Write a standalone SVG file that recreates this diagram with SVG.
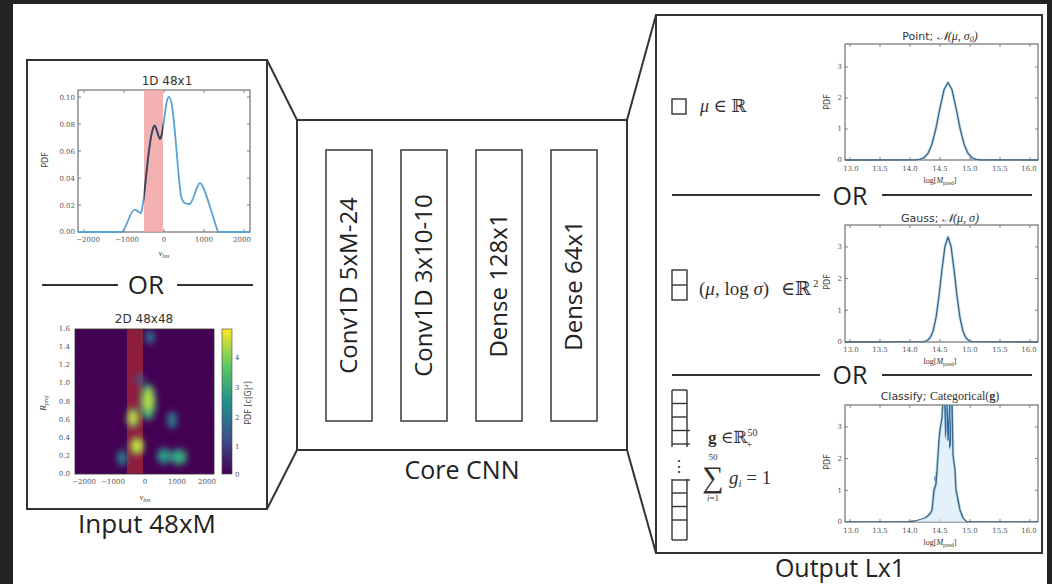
<svg xmlns="http://www.w3.org/2000/svg" width="1052" height="584" viewBox="0 0 1052 584">
<defs>
<style>
.frame{fill:none;stroke:#333;stroke-width:2}
.layer{fill:#fff;stroke:#444;stroke-width:1.6}
.cap{font-family:"Open Sans","DejaVu Sans",sans-serif;fill:#222}
.ltxt{font-family:"Open Sans","DejaVu Sans",sans-serif;font-size:24px;fill:#222}
.ax{fill:#fff;stroke:#555;stroke-width:1}
.tick{stroke:#666;stroke-width:0.8}
.tk{font-family:"DejaVu Serif","Liberation Serif",serif;font-size:7px;fill:#555}
.tt{font-family:"DejaVu Sans",sans-serif;font-size:12px;fill:#333}
.st{font-family:"DejaVu Sans",sans-serif;font-size:11px;fill:#333}
.mt{font-family:"Liberation Serif","DejaVu Serif",serif;fill:#333}
.yl{font-family:"DejaVu Sans",sans-serif;font-size:8px;fill:#444}
.div{stroke:#333;stroke-width:2}
.conn{stroke:#333;stroke-width:2;fill:none}
.halo{fill:none;stroke:#a9d1ee;stroke-width:3;opacity:0.7;stroke-linejoin:round}
.crv{fill:none;stroke:#3f6680;stroke-width:1.3;stroke-linejoin:round}
.cell{fill:none;stroke:#333;stroke-width:1.4}
</style>
<linearGradient id="viridis" x1="0" y1="1" x2="0" y2="0">
<stop offset="0" stop-color="#440154"/>
<stop offset="0.25" stop-color="#3b528b"/>
<stop offset="0.5" stop-color="#21918c"/>
<stop offset="0.75" stop-color="#5ec962"/>
<stop offset="1" stop-color="#fde725"/>
</linearGradient>
<filter id="blur" x="-50%" y="-50%" width="200%" height="200%"><feGaussianBlur stdDeviation="3"/></filter>
<clipPath id="hm"><rect x="75" y="329" width="139" height="145"/></clipPath>
<clipPath id="band1"><rect x="144" y="90" width="19" height="142"/></clipPath>
<clipPath id="cax"><rect x="845" y="405" width="193" height="117"/></clipPath>
</defs>

<rect x="0" y="0" width="1052" height="584" fill="#232323"/>
<rect x="13" y="4" width="1034" height="580" fill="#fff"/>

<g id="connectors">
<line class="conn" x1="267" y1="60" x2="297" y2="120"/>
<line class="conn" x1="267" y1="509" x2="297" y2="450"/>
<line class="conn" x1="627" y1="120" x2="656" y2="15"/>
<line class="conn" x1="627" y1="450" x2="656" y2="553"/>
</g>

<g id="input">
<rect class="frame" x="27" y="60" width="240" height="449"/>
<!-- 1D plot -->
<text class="tt" x="167" y="85" text-anchor="middle">1D 48x1</text>
<rect class="ax" x="78" y="90" width="172" height="142"/>
<rect x="144" y="90" width="19" height="142" fill="#f2a3a3" opacity="0.85"/>
<g class="tick">
<line x1="84" y1="232" x2="84" y2="229"/><line x1="124" y1="232" x2="124" y2="229"/><line x1="164" y1="232" x2="164" y2="229"/><line x1="204" y1="232" x2="204" y2="229"/><line x1="244" y1="232" x2="244" y2="229"/>
<line x1="84" y1="90" x2="84" y2="93"/><line x1="124" y1="90" x2="124" y2="93"/><line x1="164" y1="90" x2="164" y2="93"/><line x1="204" y1="90" x2="204" y2="93"/><line x1="244" y1="90" x2="244" y2="93"/>
<line x1="78" y1="97" x2="81" y2="97"/><line x1="78" y1="124" x2="81" y2="124"/><line x1="78" y1="151" x2="81" y2="151"/><line x1="78" y1="178" x2="81" y2="178"/><line x1="78" y1="205" x2="81" y2="205"/>
<line x1="250" y1="97" x2="247" y2="97"/><line x1="250" y1="124" x2="247" y2="124"/><line x1="250" y1="151" x2="247" y2="151"/><line x1="250" y1="178" x2="247" y2="178"/><line x1="250" y1="205" x2="247" y2="205"/>
</g>
<path d="M78,232 L122,232 C127,228 130,211 134,210 C138,209 139,214 141,213 C145,205 148,135 154,126 C156,123 158,138 160,139 C164,136 165,97 169,97 C174,97 177,170 181,196 C183,204 186,204 190,204 C194,200 197,183 200,183 C204,183 212,215 218,232 L250,232" fill="none" stroke="#5aa2d6" stroke-width="1.8"/>
<g clip-path="url(#band1)"><path d="M78,232 L122,232 C127,228 130,211 134,210 C138,209 139,214 141,213 C145,205 148,135 154,126 C156,123 158,138 160,139 C164,136 165,97 169,97 C174,97 177,170 181,196" fill="none" stroke="#3a3f55" stroke-width="1.8"/></g>
<g class="tk" text-anchor="end">
<text x="75" y="100">0.10</text><text x="75" y="127">0.08</text><text x="75" y="154">0.06</text><text x="75" y="181">0.04</text><text x="75" y="208">0.02</text><text x="75" y="234">0.00</text>
</g>
<g class="tk" text-anchor="middle">
<text x="88" y="242">−2000</text><text x="127" y="242">−1000</text><text x="164" y="242">0</text><text x="204" y="242">1000</text><text x="242" y="242">2000</text>
</g>
<text class="yl" transform="translate(48,160) rotate(-90)" text-anchor="middle">PDF</text>
<text class="mt" x="164" y="256" font-size="8" text-anchor="middle" font-style="italic">v<tspan font-size="6" dy="2">los</tspan></text>

<!-- OR -->
<line class="div" x1="42" y1="285" x2="118" y2="285"/>
<line class="div" x1="177" y1="285" x2="253" y2="285"/>
<text class="cap" x="146" y="294" font-size="26" text-anchor="middle">OR</text>

<!-- 2D plot -->
<text class="tt" x="144" y="323" text-anchor="middle">2D 48x48</text>
<rect x="75" y="329" width="139" height="145" fill="#440154"/>
<g clip-path="url(#hm)">
<rect x="127" y="329" width="16" height="145" fill="#8e1d3e"/>
<g filter="url(#blur)">
<ellipse cx="150" cy="337" rx="5" ry="7" fill="#2f6e8e"/>
<ellipse cx="148" cy="402" rx="8" ry="18" fill="#3fb46e"/>
<ellipse cx="148" cy="400" rx="4" ry="11" fill="#c4e02e"/>
<ellipse cx="133" cy="418" rx="6" ry="10" fill="#6cc45a"/>
<ellipse cx="133" cy="418" rx="3" ry="5" fill="#e8e42a"/>
<ellipse cx="137" cy="446" rx="7" ry="9" fill="#7ccd52"/>
<ellipse cx="137" cy="446" rx="3" ry="5" fill="#f0e52a"/>
<ellipse cx="172" cy="420" rx="5" ry="9" fill="#2a7b8e"/>
<ellipse cx="164" cy="456" rx="7" ry="8" fill="#2a9a88"/>
<ellipse cx="179" cy="457" rx="8" ry="8" fill="#35a882"/>
<ellipse cx="122" cy="458" rx="5" ry="8" fill="#2b7d8e"/>
<ellipse cx="140" cy="380" rx="4" ry="6" fill="#3c5a8c"/>
</g>
</g>
<rect x="75" y="329" width="139" height="145" fill="none" stroke="#333" stroke-width="0.8"/>
<rect x="222" y="329" width="10" height="145" fill="url(#viridis)" stroke="#444" stroke-width="0.6"/>
<g class="tk">
<text x="235" y="477">0</text><text x="235" y="449">1</text><text x="235" y="420">2</text><text x="235" y="390">3</text><text x="235" y="360">4</text>
</g>
<text class="yl" transform="translate(251,403) rotate(-90)" text-anchor="middle" font-size="7">PDF [c|G|²]</text>
<g class="tk" text-anchor="end">
<text x="70" y="331">1.6</text><text x="70" y="349">1.4</text><text x="70" y="367">1.2</text><text x="70" y="385">1.0</text><text x="70" y="404">0.8</text><text x="70" y="422">0.6</text><text x="70" y="440">0.4</text><text x="70" y="458">0.2</text><text x="70" y="476">0.0</text>
</g>
<g class="tk" text-anchor="middle">
<text x="84" y="484">−2000</text><text x="113" y="484">−1000</text><text x="145" y="484">0</text><text x="177" y="484">1000</text><text x="207" y="484">2000</text>
</g>
<text class="mt" transform="translate(46,403) rotate(-90)" font-size="9" text-anchor="middle" font-style="italic">R<tspan font-size="6" dy="2">proj</tspan></text>
<text class="mt" x="145" y="500" font-size="8" text-anchor="middle" font-style="italic">v<tspan font-size="6" dy="2">los</tspan></text>
<text class="cap" x="147" y="533" font-size="26" text-anchor="middle">Input 48xM</text>
</g>

<g id="core">
<rect class="frame" x="297" y="120" width="330" height="330"/>
<text class="cap" x="462" y="479" font-size="25" text-anchor="middle">Core CNN</text>
</g>
<g id="layer1"><rect class="layer" x="326" y="150" width="46" height="271"/><text class="ltxt" transform="translate(357,285.5) rotate(-90)" text-anchor="middle">Conv1D 5xM-24</text></g>
<g id="layer2"><rect class="layer" x="401" y="150" width="46" height="271"/><text class="ltxt" transform="translate(432,285.5) rotate(-90)" text-anchor="middle">Conv1D 3x10-10</text></g>
<g id="layer3"><rect class="layer" x="476" y="150" width="46" height="271"/><text class="ltxt" transform="translate(507,285.5) rotate(-90)" text-anchor="middle">Dense 128x1</text></g>
<g id="layer4"><rect class="layer" x="551" y="150" width="46" height="271"/><text class="ltxt" transform="translate(582,285.5) rotate(-90)" text-anchor="middle">Dense 64x1</text></g>

<g id="output">
<rect class="frame" x="656" y="15" width="386" height="538"/>
<text class="cap" x="840" y="577" font-size="25" text-anchor="middle">Output Lx1</text>

<!-- Point -->
<rect class="cell" x="672" y="99" width="14" height="15"/>
<text class="mt" x="700" y="112" font-size="18"><tspan font-style="italic">μ</tspan> ∈ ℝ</text>
<text x="940" y="40" text-anchor="middle"><tspan class="st">Point; </tspan><tspan class="mt" font-size="12" font-style="italic">𝒩(μ, σ<tspan font-size="8" dy="2">0</tspan><tspan dy="-2">)</tspan></tspan></text>
<rect class="ax" x="845" y="44" width="193" height="116"/>
<g class="tick">
<line x1="850" y1="160" x2="850" y2="157"/><line x1="880" y1="160" x2="880" y2="157"/><line x1="910" y1="160" x2="910" y2="157"/><line x1="940" y1="160" x2="940" y2="157"/><line x1="970" y1="160" x2="970" y2="157"/><line x1="1000" y1="160" x2="1000" y2="157"/><line x1="1030" y1="160" x2="1030" y2="157"/>
<line x1="850" y1="44" x2="850" y2="47"/><line x1="880" y1="44" x2="880" y2="47"/><line x1="910" y1="44" x2="910" y2="47"/><line x1="940" y1="44" x2="940" y2="47"/><line x1="970" y1="44" x2="970" y2="47"/><line x1="1000" y1="44" x2="1000" y2="47"/><line x1="1030" y1="44" x2="1030" y2="47"/>
<line x1="845" y1="129" x2="848" y2="129"/><line x1="845" y1="98" x2="848" y2="98"/><line x1="845" y1="67" x2="848" y2="67"/>
<line x1="1038" y1="129" x2="1035" y2="129"/><line x1="1038" y1="98" x2="1035" y2="98"/><line x1="1038" y1="67" x2="1035" y2="67"/>
</g>
<polyline class="halo" points="916,159.9 920,159.4 924,157.8 928,153.4 932,144 936,128.1 940,107.8 944,89.8 948,82.5 952,89.8 956,107.8 960,128.1 964,144 968,153.4 972,157.8 976,159.4 980,159.9"/>
<polyline class="crv" points="845,160 916,159.9 920,159.4 924,157.8 928,153.4 932,144 936,128.1 940,107.8 944,89.8 948,82.5 952,89.8 956,107.8 960,128.1 964,144 968,153.4 972,157.8 976,159.4 980,159.9 1038,160"/>
<g class="tk" text-anchor="end"><text x="842" y="162">0</text><text x="842" y="131">1</text><text x="842" y="100">2</text><text x="842" y="69">3</text></g>
<g class="tk" text-anchor="middle"><text x="851" y="171">13.0</text><text x="880" y="171">13.5</text><text x="910" y="171">14.0</text><text x="940" y="171">14.5</text><text x="970" y="171">15.0</text><text x="1000" y="171">15.5</text><text x="1029" y="171">16.0</text></g>
<text class="mt" x="940" y="183" font-size="8" text-anchor="middle">log[<tspan font-style="italic">M</tspan><tspan font-size="6" dy="2">pred</tspan><tspan dy="-2">]</tspan></text>
<text class="yl" transform="translate(830,102) rotate(-90)" text-anchor="middle">PDF</text>

<line class="div" x1="672" y1="195" x2="820" y2="195"/>
<line class="div" x1="882" y1="195" x2="1032" y2="195"/>
<text class="cap" x="850" y="205" font-size="25" text-anchor="middle">OR</text>

<!-- Gauss -->
<rect class="cell" x="672" y="270" width="15" height="30"/>
<line class="cell" x1="672" y1="285" x2="687" y2="285"/>
<text class="mt" x="699" y="295" font-size="19">(<tspan font-style="italic">μ</tspan>, log <tspan font-style="italic">σ</tspan>)<tspan x="781">∈ℝ</tspan><tspan x="813" dy="-8" font-size="11">2</tspan></text>
<text x="940" y="222" text-anchor="middle"><tspan class="st">Gauss; </tspan><tspan class="mt" font-size="12" font-style="italic">𝒩(μ, σ)</tspan></text>
<rect class="ax" x="845" y="225" width="193" height="117"/>
<g class="tick">
<line x1="850" y1="342" x2="850" y2="339"/><line x1="880" y1="342" x2="880" y2="339"/><line x1="910" y1="342" x2="910" y2="339"/><line x1="940" y1="342" x2="940" y2="339"/><line x1="970" y1="342" x2="970" y2="339"/><line x1="1000" y1="342" x2="1000" y2="339"/><line x1="1030" y1="342" x2="1030" y2="339"/>
<line x1="850" y1="225" x2="850" y2="228"/><line x1="880" y1="225" x2="880" y2="228"/><line x1="910" y1="225" x2="910" y2="228"/><line x1="940" y1="225" x2="940" y2="228"/><line x1="970" y1="225" x2="970" y2="228"/><line x1="1000" y1="225" x2="1000" y2="228"/><line x1="1030" y1="225" x2="1030" y2="228"/>
<line x1="845" y1="310.3" x2="848" y2="310.3"/><line x1="845" y1="278.6" x2="848" y2="278.6"/><line x1="845" y1="246.9" x2="848" y2="246.9"/>
<line x1="1038" y1="310.3" x2="1035" y2="310.3"/><line x1="1038" y1="278.6" x2="1035" y2="278.6"/><line x1="1038" y1="246.9" x2="1035" y2="246.9"/>
</g>
<polyline class="halo" points="924,341.7 927,340.8 930,338.1 933,331.4 936,317.9 939,296 942,269.2 945,246.2 948,237 951,246.2 954,269.2 957,296 960,317.9 963,331.4 966,338.1 969,340.8 972,341.7"/>
<polyline class="crv" points="845,342 924,341.7 927,340.8 930,338.1 933,331.4 936,317.9 939,296 942,269.2 945,246.2 948,237 951,246.2 954,269.2 957,296 960,317.9 963,331.4 966,338.1 969,340.8 972,341.7 1038,342"/>
<g class="tk" text-anchor="end"><text x="842" y="344">0</text><text x="842" y="312.5">1</text><text x="842" y="281">2</text><text x="842" y="249">3</text></g>
<g class="tk" text-anchor="middle"><text x="851" y="352">13.0</text><text x="880" y="352">13.5</text><text x="910" y="352">14.0</text><text x="940" y="352">14.5</text><text x="970" y="352">15.0</text><text x="1000" y="352">15.5</text><text x="1029" y="352">16.0</text></g>
<text class="mt" x="940" y="364" font-size="8" text-anchor="middle">log[<tspan font-style="italic">M</tspan><tspan font-size="6" dy="2">pred</tspan><tspan dy="-2">]</tspan></text>
<text class="yl" transform="translate(830,282) rotate(-90)" text-anchor="middle">PDF</text>

<line class="div" x1="672" y1="375" x2="820" y2="375"/>
<line class="div" x1="882" y1="375" x2="1032" y2="375"/>
<text class="cap" x="850" y="384" font-size="25" text-anchor="middle">OR</text>

<!-- Classify -->
<g id="cells">
<line class="cell" x1="672" y1="390" x2="687" y2="390"/>
<line class="cell" x1="672" y1="403.5" x2="687" y2="403.5"/>
<line class="cell" x1="672" y1="417" x2="687" y2="417"/>
<line class="cell" x1="672" y1="430.5" x2="690" y2="430.5"/>
<line class="cell" x1="672" y1="444" x2="690" y2="444"/>
<line class="cell" x1="672" y1="390" x2="672" y2="447"/>
<line class="cell" x1="687" y1="390" x2="687" y2="447"/>
<line class="cell" x1="672" y1="479" x2="672" y2="540"/>
<line class="cell" x1="687" y1="479" x2="687" y2="540"/>
<line class="cell" x1="672" y1="480" x2="690" y2="480"/>
<line class="cell" x1="672" y1="493" x2="687" y2="493"/>
<line class="cell" x1="672" y1="506.5" x2="687" y2="506.5"/>
<line class="cell" x1="672" y1="520" x2="687" y2="520"/>
<line class="cell" x1="672" y1="540" x2="687" y2="540"/>
</g>
<text class="mt" x="679" y="472" font-size="16" text-anchor="middle">⋮</text>
<text class="mt" x="708" y="443" font-size="17"><tspan font-weight="bold">g</tspan> ∈ℝ<tspan font-size="10" dy="-7">50</tspan><tspan font-size="10" dx="-11" dy="12">+</tspan></text>
<text class="mt" x="713" y="487" font-size="30" text-anchor="middle">∑</text>
<text class="mt" x="713" y="460" font-size="9" text-anchor="middle">50</text>
<text class="mt" x="713" y="501" font-size="9" text-anchor="middle"><tspan font-style="italic">i</tspan>=1</text>
<text class="mt" x="729" y="484" font-size="19"><tspan font-style="italic">g</tspan><tspan font-size="11" dy="3" font-style="italic">i</tspan><tspan dy="-3"> = 1</tspan></text>
<text x="940" y="400" text-anchor="middle"><tspan class="st">Classify; </tspan><tspan class="mt" font-size="12">Categorical(<tspan font-weight="bold">g</tspan>)</tspan></text>
<rect class="ax" x="845" y="405" width="193" height="117"/>
<g class="tick">
<line x1="850" y1="522" x2="850" y2="519"/><line x1="880" y1="522" x2="880" y2="519"/><line x1="910" y1="522" x2="910" y2="519"/><line x1="940" y1="522" x2="940" y2="519"/><line x1="970" y1="522" x2="970" y2="519"/><line x1="1000" y1="522" x2="1000" y2="519"/><line x1="1030" y1="522" x2="1030" y2="519"/>
<line x1="850" y1="405" x2="850" y2="408"/><line x1="880" y1="405" x2="880" y2="408"/><line x1="910" y1="405" x2="910" y2="408"/><line x1="970" y1="405" x2="970" y2="408"/><line x1="1000" y1="405" x2="1000" y2="408"/><line x1="1030" y1="405" x2="1030" y2="408"/>
<line x1="845" y1="490.3" x2="848" y2="490.3"/><line x1="845" y1="458.6" x2="848" y2="458.6"/><line x1="845" y1="426.9" x2="848" y2="426.9"/>
<line x1="1038" y1="490.3" x2="1035" y2="490.3"/><line x1="1038" y1="458.6" x2="1035" y2="458.6"/><line x1="1038" y1="426.9" x2="1035" y2="426.9"/>
</g>
<g clip-path="url(#cax)">
<path d="M905,522 L915,521 L925,518 L930,514 L932,510 L934,490 L936,484 L937,470 L939,440 L940,430 L942,418 L943,400 L947,400 L948,440 L950,400 L952,400 L953,455 L955,470 L956,490 L958,500 L960,510 L963,518 L967,522 Z" fill="#d3e8f6" opacity="0.6"/>
<path d="M933,505 L936,486 L934,478 L938,470 Z M944,400 L947,400 L947,430 L945,440 Z M949,400 L952,400 L951,445 L949,450 Z M957,495 L959,500 L958,506 Z" fill="#2e6fa8"/>
<polyline class="halo" points="925,518 930,514 932,510 934,490 936,484 937,470 939,440 940,430 942,418 943,400 947,400 948,440 950,400 952,400 953,455 955,470 956,490 958,500 960,510 963,518"/>
<polyline class="crv" points="845,522 905,522 915,521 925,518 930,514 932,510 934,490 936,484 937,470 939,440 940,430 942,418 943,400 947,400 948,440 950,400 952,400 953,455 955,470 956,490 958,500 960,510 963,518 967,522 1038,522"/>
</g>
<g class="tk" text-anchor="end"><text x="842" y="524">0</text><text x="842" y="492.5">1</text><text x="842" y="461">2</text><text x="842" y="429">3</text></g>
<g class="tk" text-anchor="middle"><text x="851" y="533">13.0</text><text x="880" y="533">13.5</text><text x="910" y="533">14.0</text><text x="940" y="533">14.5</text><text x="970" y="533">15.0</text><text x="1000" y="533">15.5</text><text x="1029" y="533">16.0</text></g>
<text class="mt" x="940" y="545" font-size="8" text-anchor="middle">log[<tspan font-style="italic">M</tspan><tspan font-size="6" dy="2">pred</tspan><tspan dy="-2">]</tspan></text>
<text class="yl" transform="translate(830,462) rotate(-90)" text-anchor="middle">PDF</text>
</g>
</svg>
